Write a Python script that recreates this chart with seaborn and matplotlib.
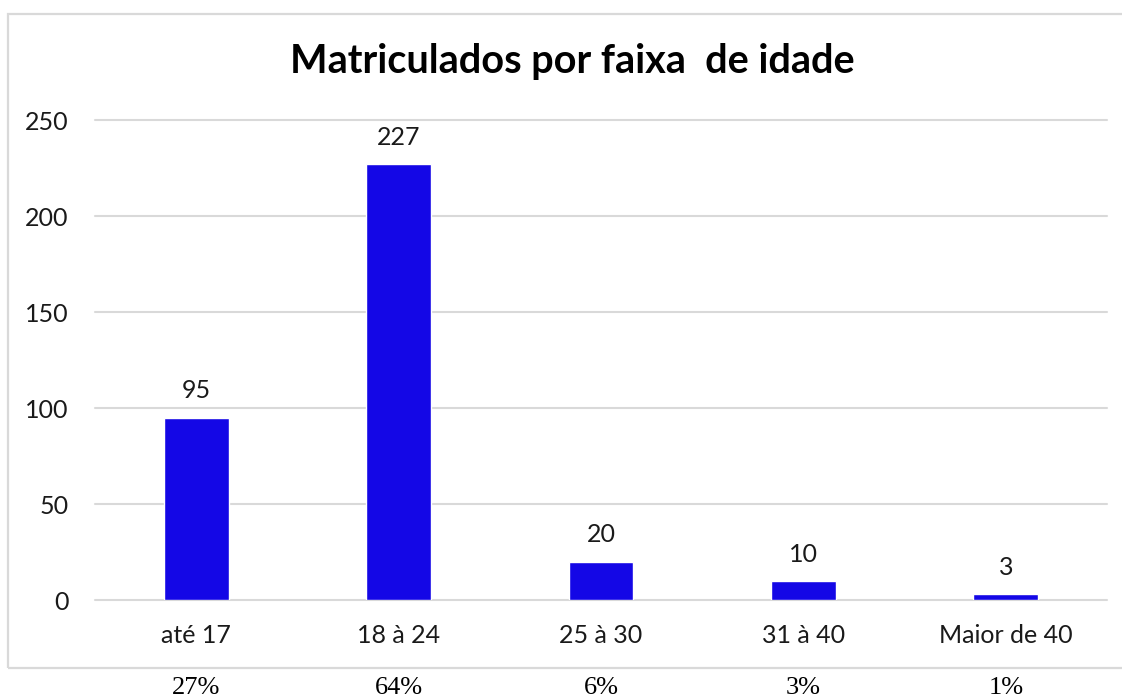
import matplotlib
matplotlib.use("Agg")
import matplotlib.pyplot as plt
import matplotlib.transforms as mtransforms
from matplotlib.patches import Rectangle
import seaborn as sns

# dados
faixas = ["até 17", "18 à 24", "25 à 30", "31 à 40", "Maior de 40"]
matriculados = [95, 227, 20, 10, 3]
percentuais = ["27%", "64%", "6%", "3%", "1%"]
yticks = [0, 50, 100, 150, 200, 250]

sns.set_theme(style="white")
plt.rcParams['font.family'] = ['Lato', 'DejaVu Sans']

W, H = 1122, 698
fig = plt.figure(figsize=(W / 100, H / 100), dpi=100)
ax = fig.add_axes([95 / W, 98 / H, (1107 - 95) / W, (600 - 120) / H])

sns.barplot(x=faixas, y=matriculados, color="#1407E6", saturation=1,
            width=0.32, ax=ax)

ax.set_ylim(0, 250)
ax.set_xlim(-0.5, len(faixas) - 0.5)
ax.set_yticks(yticks)
ax.set_xlabel("")
ax.set_ylabel("")
ax.yaxis.grid(True, color="#D9D9D9", linewidth=1.5)
ax.set_axisbelow(True)
for g in ax.get_ygridlines():
    g.set_clip_on(False)
sns.despine(ax=ax, left=True, bottom=True, top=True, right=True)
ax.tick_params(axis="y", length=0, pad=19, labelsize=18, labelcolor="#1a1a1a")
ax.tick_params(axis="x", length=0, pad=17, labelsize=18, labelcolor="#1a1a1a")

ax.bar_label(ax.containers[0], labels=[str(v) for v in matriculados],
             padding=11, fontsize=18, color="#1a1a1a")

fig.text(572 / W, 1 - 62 / H, "Matriculados por faixa  de idade",
         ha="center", va="center", fontsize=28.5, fontweight="bold", color="black")

# moldura do grafico
fig.patches.append(Rectangle((8 / W, 30 / H), (W + 5 - 8) / W, (668 - 14) / H,
                             transform=fig.transFigure, fill=False,
                             edgecolor="#D9D9D9", linewidth=1.6))

trans = mtransforms.blended_transform_factory(ax.transData, fig.transFigure)
for i, p in enumerate(percentuais):
    ax.text(i, 1 - 688 / H, p, transform=trans, ha="center", va="center",
            fontsize=19, family=["Liberation Serif", "DejaVu Serif"],
            color="black", clip_on=False)

fig.savefig("out.png", dpi=100)
